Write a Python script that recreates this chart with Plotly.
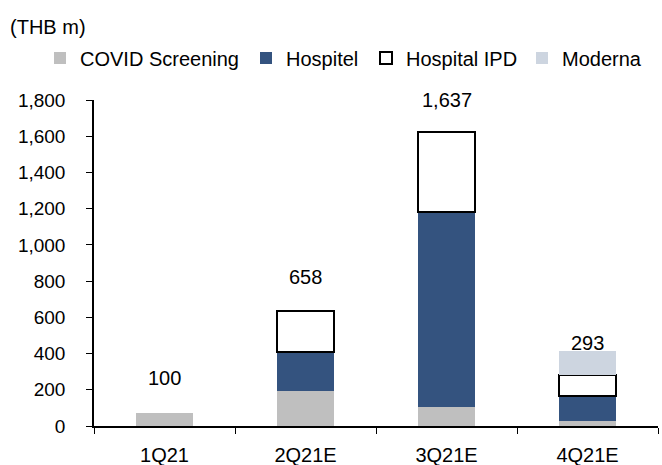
import plotly.graph_objects as go

quarters = ["1Q21", "2Q21E", "3Q21E", "4Q21E"]
covid_screening = [73, 194, 106, 29]
hospitel = [0, 215, 1076, 138]
hospital_ipd = [0, 228, 440, 112]
moderna = [0, 0, 0, 136]
total_labels = [100, 658, 1637, 293]
total_text = ["100", "658", "1,637", "293"]

FONT = "Liberation Sans, Arial, sans-serif"
W, H = 662, 465


def nz(vals):
    return [v if v else None for v in vals]


fig = go.Figure()
fig.add_bar(x=quarters, y=nz(covid_screening), name="COVID Screening", legend="legend",
            marker=dict(color="#BFBFBF", line=dict(width=0)))
fig.add_bar(x=quarters, y=nz(hospitel), name="Hospitel", legend="legend2",
            marker=dict(color="#34537F", line=dict(width=0)))
fig.add_bar(x=quarters, y=nz(hospital_ipd), name="Hospital IPD", legend="legend3",
            marker=dict(color="#FFFFFF", line=dict(color="#000000", width=2)))
fig.add_bar(x=quarters, y=nz(moderna), name="Moderna", legend="legend4",
            marker=dict(color="#CDD5E0", line=dict(width=0)))

for q, v, t in zip(quarters, total_labels, total_text):
    fig.add_annotation(x=q, y=v, text=t, showarrow=False, yshift=30,
                       font=dict(size=20, color="#000000", family=FONT))

fig.add_annotation(xref="paper", yref="paper", x=(8 - 94) / 564, y=1 + (100 - 27) / 327,
                   xanchor="left", yanchor="middle", text="(THB m)", showarrow=False,
                   font=dict(size=20, color="#000000", family=FONT))


def leg(text_x):
    # position legend so its text begins near text_x (px)
    return dict(orientation="h", xref="container", yref="container",
                x=(text_x - 40) / W, y=1 - 58 / H, xanchor="left", yanchor="middle",
                font=dict(size=20, family=FONT), itemwidth=30,
                bgcolor="rgba(0,0,0,0)", borderwidth=0)


fig.update_layout(
    barmode="stack",
    bargap=0.59,
    width=W, height=H,
    margin=dict(l=94, r=4, t=100, b=39, autoexpand=False),
    paper_bgcolor="white", plot_bgcolor="white",
    font=dict(family=FONT, size=20, color="#000000"),
    showlegend=True,
    legend=leg(80),
    legend2=leg(286),
    legend3=leg(406),
    legend4=leg(562),
    xaxis=dict(showline=True, linecolor="#000000", linewidth=1.5,
               ticks="outside", ticklen=6, tickcolor="#000000",
               tickson="boundaries", showgrid=False, automargin=False,
               ticklabelstandoff=10,
               tickfont=dict(size=20, family=FONT)),
    yaxis=dict(range=[0, 1800], dtick=200, tickformat=",d",
               showline=True, linecolor="#000000", linewidth=1.5,
               ticks="outside", ticklen=6, tickcolor="#000000",
               showgrid=False, zeroline=False, automargin=False,
               ticklabelstandoff=17,
               tickfont=dict(size=19, family=FONT)),
)

fig.write_html("out.html", post_script="document.body.style.margin='0';",
               config={"displayModeBar": False})
